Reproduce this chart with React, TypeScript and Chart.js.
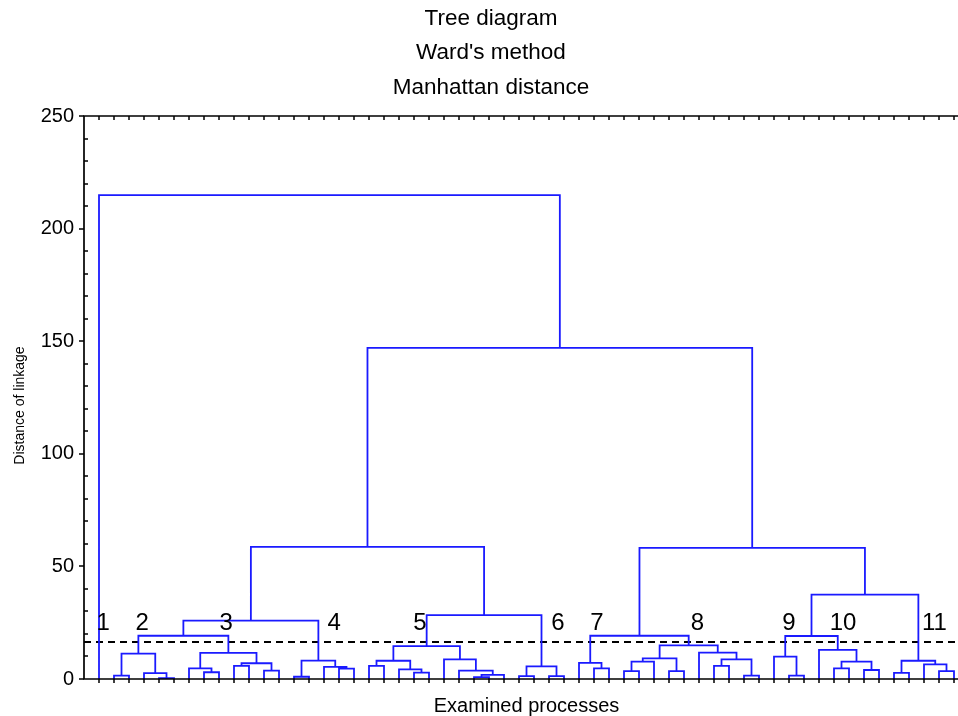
import React, { useEffect, useRef } from 'react';
import { Chart, registerables } from 'chart.js';

Chart.register(...registerables);

const FONT = "'Liberation Sans', Arial, Helvetica, sans-serif";

const titleLines = ['Tree diagram', "Ward's method", 'Manhattan distance'];
const xAxisTitle = 'Examined processes';
const yAxisTitle = 'Distance of linkage';

const leafCount = 58;
const yTicks = [0, 50, 100, 150, 200, 250];
const yMinorStep = 10;

// Merge list: positive = leaf position (1..58), negative = -(merge number)
const mergeLeft = [
  2, 5, 4, -1, 8, 7, 10, 12, -7, -6,
  -4, 14, 17, 16, -12, -11, 19, 22, 21, -17,
  26, -21, 25, 24, -20, 29, 31, -26, -25, -16,
  34, 33, 36, -33, 39, -34, 42, 44, -37, 41,
  -36, -32, 47, 46, 50, 52, -45, 49, -44, 54,
  57, 56, -50, -49, -42, -30, 1,
];
const mergeRight = [
  3, 6, -2, -3, 9, -5, 11, 13, -8, -9,
  -10, 15, 18, -13, -14, -15, 20, 23, -18, -19,
  27, 28, -22, -23, -24, 30, 32, -27, -28, -29,
  35, -31, 37, 38, 40, -35, 43, 45, -38, -39,
  -40, -41, 48, -43, 51, 53, -46, -47, -48, 55,
  58, -51, -52, -53, -54, -55, -56,
];
const mergeHeight = [
  1.5, 0.4, 2.6, 11.3, 3.0, 4.7, 5.8, 3.7, 7.0, 11.6,
  19.2, 1.0, 4.6, 5.4, 8.2, 25.9, 5.8, 2.8, 4.3, 8.1,
  0.8, 1.8, 3.7, 8.7, 14.6, 1.3, 1.3, 5.6, 28.4, 58.7,
  4.7, 7.2, 3.5, 7.7, 3.5, 9.2, 5.8, 1.5, 8.7, 11.7,
  14.9, 19.2, 1.5, 9.9, 4.7, 4.0, 7.7, 12.9, 19.1, 2.7,
  3.5, 6.5, 8.1, 37.5, 58.2, 147.0, 214.9,
];

const cutHeight = 16.4;

const clusterNames = ['1', '2', '3', '4', '5', '6', '7', '8', '9', '10', '11'];
const clusterLabelX = [1.27, 3.87, 9.47, 16.67, 22.4, 31.6, 34.2, 40.9, 47.0, 50.6, 56.7];
const clusterLabelY = 24.9;

function buildDendrogram() {
  const nodeX: number[] = [];
  const nodeH: number[] = [];
  const pts: { x: number; y: number | null }[] = [];
  const pos = (ref: number) =>
    ref > 0 ? { x: ref, h: 0 } : { x: nodeX[-ref - 1], h: nodeH[-ref - 1] };
  for (let k = 0; k < mergeHeight.length; k++) {
    const l = pos(mergeLeft[k]);
    const r = pos(mergeRight[k]);
    const h = mergeHeight[k];
    nodeX[k] = (l.x + r.x) / 2;
    nodeH[k] = h;
    pts.push({ x: l.x, y: l.h }, { x: l.x, y: h }, { x: r.x, y: h }, { x: r.x, y: r.h }, { x: r.x, y: null });
  }
  return pts;
}

const textPlugin = {
  id: 'titles',
  afterDraw(chart: any) {
    const { ctx, chartArea } = chart;
    ctx.save();
    ctx.fillStyle = '#000';
    ctx.textAlign = 'center';
    ctx.textBaseline = 'middle';
    ctx.font = `22.5px ${FONT}`;
    titleLines.forEach((t, i) => ctx.fillText(t, 491, 18.5 + i * 34.5));
    ctx.translate(20, (chartArea.top + chartArea.bottom) / 2 + 8);
    ctx.rotate(-Math.PI / 2);
    ctx.font = `14px ${FONT}`;
    ctx.fillText(yAxisTitle, 0, 0);
    ctx.restore();
  },
};

const framePlugin = {
  id: 'frameAndLabels',
  afterDatasetsDraw(chart: any) {
    const { ctx, chartArea, scales } = chart;
    const { left, top, right, bottom } = chartArea;
    const xs = scales.x;
    const ys = scales.y;
    ctx.save();
    ctx.strokeStyle = '#000';
    ctx.lineWidth = 1.7;
    ctx.beginPath();
    ctx.rect(left, top, right - left, bottom - top);
    ctx.stroke();
    ctx.lineWidth = 1.5;
    ctx.beginPath();
    for (let i = 1; i <= leafCount; i++) {
      const px = Math.round(xs.getPixelForValue(i));
      ctx.moveTo(px, top);
      ctx.lineTo(px, top + 4);
      ctx.moveTo(px, bottom);
      ctx.lineTo(px, bottom + 4);
    }
    const yMax = yTicks[yTicks.length - 1];
    for (let v = yMinorStep; v < yMax; v += yMinorStep) {
      if (yTicks.includes(v)) continue;
      const py = Math.round(ys.getPixelForValue(v));
      ctx.moveTo(left, py);
      ctx.lineTo(left + 4, py);
    }
    for (const v of yTicks) {
      const py = Math.round(ys.getPixelForValue(v));
      ctx.moveTo(left - 5, py);
      ctx.lineTo(left, py);
    }
    ctx.stroke();

    ctx.fillStyle = '#000';
    ctx.font = `24px ${FONT}`;
    ctx.textAlign = 'center';
    ctx.textBaseline = 'middle';
    clusterNames.forEach((name, i) => {
      ctx.fillText(name, xs.getPixelForValue(clusterLabelX[i]), ys.getPixelForValue(clusterLabelY));
    });
    ctx.restore();
  },
};

export default function App() {
  const ref = useRef<HTMLCanvasElement | null>(null);
  useEffect(() => {
    if (!ref.current) return;
    const chart = new Chart(ref.current, {
      type: 'line',
      data: {
        datasets: [
          {
            data: buildDendrogram() as any,
            borderColor: '#1a1aff',
            borderWidth: 1.8,
            pointRadius: 0,
            spanGaps: false,
            tension: 0,
          },
          {
            data: [
              { x: 0, y: cutHeight },
              { x: leafCount + 1, y: cutHeight },
            ],
            borderColor: '#000',
            borderWidth: 2,
            borderDash: [7, 5],
            pointRadius: 0,
          },
        ],
      },
      options: {
        animation: false,
        responsive: false,
        devicePixelRatio: 1,
        layout: { padding: { left: 0, right: 13, top: 116, bottom: 0 } },
        plugins: {
          legend: { display: false },
          tooltip: { enabled: false },
          title: { display: false },
        },
        scales: {
          x: {
            type: 'linear',
            min: 0,
            max: leafCount + 1,
            grid: { display: false, drawTicks: false },
            border: { display: false },
            ticks: { display: false },
            title: {
              display: true,
              text: xAxisTitle,
              color: '#000',
              font: { family: FONT, size: 20, lineHeight: 1 },
              padding: { top: 0, bottom: 0 },
            },
            afterFit: (scale: any) => {
              scale.height = 37;
            },
          },
          y: {
            type: 'linear',
            min: 0,
            max: 250,
            grid: { display: false, drawTicks: false },
            border: { display: false },
            ticks: {
              stepSize: 50,
              color: '#000',
              padding: 10,
              font: { family: FONT, size: 20 },
            },
            title: { display: false },
            afterFit: (scale: any) => {
              scale.width = 84;
            },
          },
        },
      },
      plugins: [framePlugin, textPlugin],
    } as any);
    return () => chart.destroy();
  }, []);
  return (
    <div
      style={{
        position: 'fixed',
        left: 0,
        top: 0,
        width: 958,
        height: 716,
        overflow: 'hidden',
        background: '#fff',
      }}
    >
      <canvas ref={ref} width={982} height={716} style={{ display: 'block', width: 982, height: 716 }} />
    </div>
  );
}
